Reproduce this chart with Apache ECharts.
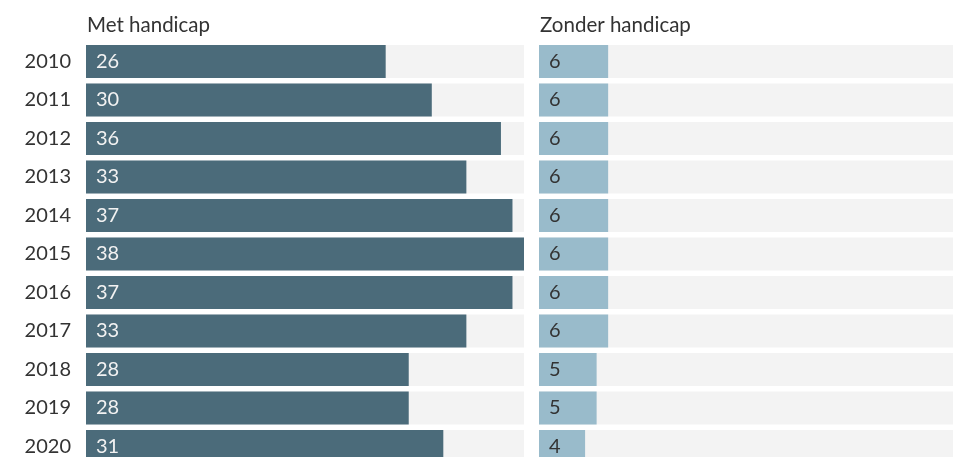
<!DOCTYPE html>
<html><head><meta charset="utf-8">
<script src="https://cdn.jsdelivr.net/npm/echarts@6/dist/echarts.min.js"></script>
<style>html,body{margin:0;padding:0;background:#fff;overflow:hidden}#c{width:953px;height:457px}</style>
</head><body><div id="c"></div>
<script>
const years = ['2010','2011','2012','2013','2014','2015','2016','2017','2018','2019','2020'];
const metHandicap = [26,30,36,33,37,38,37,33,28,28,31];
const zonderHandicap = [6,6,6,6,6,6,6,6,5,5,4];
const titles = ['Met handicap','Zonder handicap'];

const FONT = 'Lato';
const chart = echarts.init(document.getElementById('c'), null, {renderer:'canvas'});
chart.setOption({
  animation:false,
  backgroundColor:'#ffffff',
  title:[
    {text:titles[0], left:87, top:15, padding:0, textStyle:{fontFamily:FONT, fontSize:20.5, fontWeight:'normal', color:'#333'}},
    {text:titles[1], left:540, top:15, padding:0, textStyle:{fontFamily:FONT, fontSize:20.5, fontWeight:'normal', color:'#333'}}
  ],
  grid:[
    {left:86, width:438, top:42.25, height:423.5, containLabel:false, outerBoundsMode:'none'},
    {left:539, width:414, top:42.25, height:423.5, containLabel:false, outerBoundsMode:'none'}
  ],
  xAxis:[
    {gridIndex:0, type:'value', min:0, max:38, show:false},
    {gridIndex:1, type:'value', min:0, max:414/438*38, show:false}
  ],
  yAxis:[
    {gridIndex:0, type:'category', data:years, inverse:true,
     axisLine:{show:false}, axisTick:{show:false}, splitLine:{show:false},
     axisLabel:{fontFamily:FONT, fontSize:20, color:'#333', margin:15}},
    {gridIndex:1, type:'category', data:years, inverse:true, show:false}
  ],
  series:[
    {type:'bar', xAxisIndex:0, yAxisIndex:0, data:metHandicap, barCategoryGap:'14%',
     itemStyle:{color:'#4b6b7a'}, showBackground:true, backgroundStyle:{color:'#f3f3f3'},
     label:{show:true, position:'insideLeft', distance:10, color:'#f2f2f2', fontFamily:FONT, fontSize:20}},
    {type:'bar', xAxisIndex:1, yAxisIndex:1, data:zonderHandicap, barCategoryGap:'14%',
     itemStyle:{color:'#99bbcb'}, showBackground:true, backgroundStyle:{color:'#f3f3f3'},
     label:{show:true, position:'insideLeft', distance:10, color:'#333', fontFamily:FONT, fontSize:20}}
  ]
});
</script></body></html>
